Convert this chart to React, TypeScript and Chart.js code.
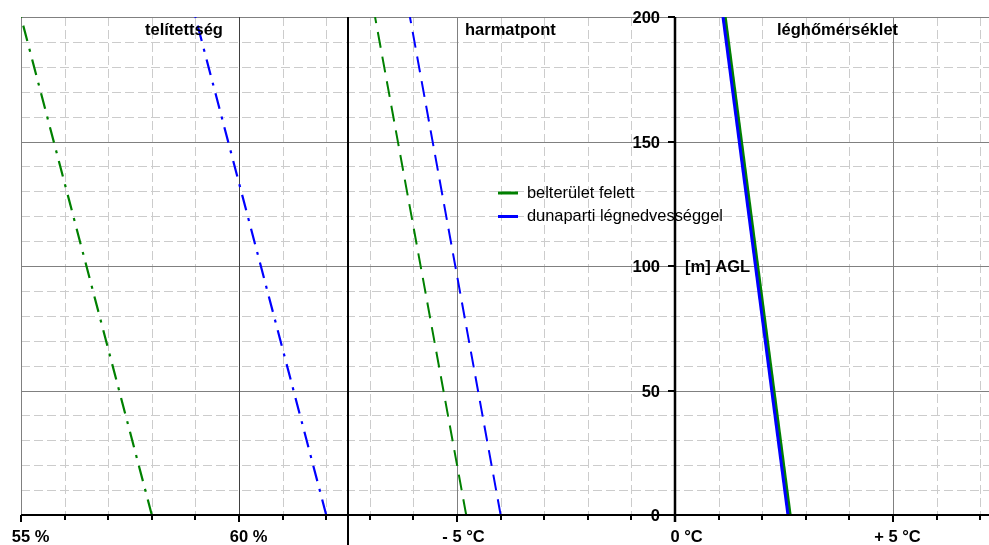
import React, { useEffect, useRef } from "react";
import { Chart, registerables } from "chart.js";

Chart.register(...registerables);

// Heights (m AGL) at which the profiles were read
const heights = [0, 200];

// Relative humidity (%) — plotted on the shared axis with an offset
const SAT_OFFSET = 70; // 55 % sits at -15 on the shared axis
const satBelterulet = [58.0, 55.0];
const satDunaparti = [62.0, 59.0];

// Dew point (°C)
const dewBelterulet = [-4.79, -6.88];
const dewDunaparti = [-4.0, -6.08];

// Air temperature (°C)
const tempBelterulet = [2.64, 1.15];
const tempDunaparti = [2.59, 1.1];

// Axis ticks / labels
const xMajorValues = [-15, -10, -5, 0, 5];
const xMajorLabels = ["55 %", "60 %", "- 5 °C", "0 °C", "+ 5 °C"];
const yMajorValues = [0, 50, 100, 150, 200];
const yMajorLabels = ["0", "50", "100", "150", "200"];

const panelTitles = ["telítettség", "harmatpont", "léghőmérséklet"];
const legendLabels = ["belterület felett", "dunaparti légnedvességgel"];
const yAxisTitle = "[m] AGL";

const GREEN = "#008000";
const BLUE = "#0000ff";
const FONT = '"Liberation Sans", Arial, sans-serif';

const pts = (vals: number[], off = 0) =>
  vals.map((v, i) => ({ x: v + off, y: heights[i] }));

const gridPlugin = {
  id: "customGrid",
  beforeDatasetsDraw(chart: any) {
    const { ctx, chartArea, scales } = chart;
    const xs = scales.x;
    const ys = scales.y;
    const { left, right, top, bottom } = chartArea;
    ctx.save();
    // minor dashed grid
    ctx.strokeStyle = "#cccccc";
    ctx.lineWidth = 1;
    ctx.setLineDash([9, 4]);
    for (let h = 10; h < 200; h += 10) {
      if (h % 50 === 0) continue;
      const y = Math.round(ys.getPixelForValue(h)) + 0.5;
      ctx.beginPath();
      ctx.moveTo(left, y);
      ctx.lineTo(right, y);
      ctx.stroke();
    }
    for (let v = -14; v <= 7; v++) {
      if (xMajorValues.includes(v)) continue;
      const x = Math.round(xs.getPixelForValue(v)) + 0.5;
      ctx.beginPath();
      ctx.moveTo(x, top);
      ctx.lineTo(x, bottom);
      ctx.stroke();
    }
    ctx.setLineDash([]);
    // major gray grid
    ctx.strokeStyle = "#808080";
    for (const h of [50, 100, 150, 200]) {
      const y = Math.round(ys.getPixelForValue(h)) + 0.5;
      ctx.beginPath();
      ctx.moveTo(left, y);
      ctx.lineTo(right, y);
      ctx.stroke();
    }
    for (const v of [-15, -10, -5, 5]) {
      const x = Math.round(xs.getPixelForValue(v)) + 0.5;
      ctx.strokeStyle = v === -10 ? "#404040" : "#808080";
      ctx.beginPath();
      ctx.moveTo(x, top);
      ctx.lineTo(x, bottom);
      ctx.stroke();
    }
    ctx.restore();
  },
  afterDatasetsDraw(chart: any) {
    const { ctx, chartArea, scales, height } = chart;
    const xs = scales.x;
    const ys = scales.y;
    const { left, right, top, bottom } = chartArea;
    ctx.save();
    ctx.strokeStyle = "#000";
    ctx.lineWidth = 2;
    // bottom axis
    ctx.beginPath();
    ctx.moveTo(left, bottom);
    ctx.lineTo(right, bottom);
    ctx.stroke();
    // panel separator at -7.5
    const xSep = Math.round(xs.getPixelForValue(-7.5));
    ctx.beginPath();
    ctx.moveTo(xSep, top);
    ctx.lineTo(xSep, height);
    ctx.stroke();
    // y axis at 0 °C
    const x0 = Math.round(xs.getPixelForValue(0));
    ctx.lineWidth = 2.5;
    ctx.beginPath();
    ctx.moveTo(x0, top);
    ctx.lineTo(x0, bottom + 7);
    ctx.stroke();
    ctx.lineWidth = 2;
    // x ticks
    for (let v = -15; v <= 7; v++) {
      const x = Math.round(xs.getPixelForValue(v));
      const len = xMajorValues.includes(v) ? 7 : 5;
      ctx.beginPath();
      ctx.moveTo(x, bottom);
      ctx.lineTo(x, bottom + len);
      ctx.stroke();
    }
    // y ticks
    for (const h of yMajorValues) {
      const y = Math.round(ys.getPixelForValue(h));
      ctx.beginPath();
      ctx.moveTo(x0 - 7, y);
      ctx.lineTo(x0, y);
      ctx.stroke();
    }
    // y labels
    ctx.fillStyle = "#000";
    ctx.font = `bold 16.5px ${FONT}`;
    ctx.textAlign = "right";
    ctx.textBaseline = "alphabetic";
    yMajorValues.forEach((h, i) => {
      const y = ys.getPixelForValue(h);
      ctx.fillText(yMajorLabels[i], x0 - 15, y + 6);
    });
    // x labels: number centred on tick
    ctx.textAlign = "left";
    xMajorValues.forEach((v, i) => {
      const m = xMajorLabels[i].match(/^(\D*)(\d+)(.*)$/);
      const pre = m ? m[1] : "";
      const num = m ? m[2] : xMajorLabels[i];
      const x = xs.getPixelForValue(v);
      const sx = x - ctx.measureText(pre).width - ctx.measureText(num).width / 2;
      ctx.fillText(xMajorLabels[i], sx, bottom + 27);
    });
    // panel titles
    const titleX = [145, 465, 777];
    panelTitles.forEach((t, i) => ctx.fillText(t, titleX[i], top + 18));
    // y axis title
    ctx.fillText(yAxisTitle, x0 + 10, ys.getPixelForValue(100) + 6);
    // legend
    ctx.font = `16.4px ${FONT}`;
    const legendColors = [GREEN, BLUE];
    legendLabels.forEach((lab, i) => {
      const yy = 193 + i * 23.5;
      ctx.strokeStyle = legendColors[i];
      ctx.lineWidth = 3;
      ctx.beginPath();
      ctx.moveTo(498, yy);
      ctx.lineTo(518, yy);
      ctx.stroke();
      ctx.fillStyle = "#000";
      ctx.fillText(lab, 527, yy + 4.5);
    });
    ctx.restore();
  },
};

export default function App() {
  const ref = useRef<HTMLCanvasElement | null>(null);
  useEffect(() => {
    document.body.style.margin = "0";
    if (!ref.current) return;
    const chart = new Chart(ref.current, {
      type: "line",
      data: {
        datasets: [
          {
            label: "telítettség – " + legendLabels[0],
            data: pts(satBelterulet, -SAT_OFFSET),
            borderColor: GREEN,
            borderWidth: 2.2,
            borderDash: [16, 8, 3, 8],
            order: 2,
          },
          {
            label: "telítettség – " + legendLabels[1],
            data: pts(satDunaparti, -SAT_OFFSET),
            borderColor: BLUE,
            borderWidth: 2.2,
            borderDash: [16, 8, 3, 8],
            order: 1,
          },
          {
            label: "harmatpont – " + legendLabels[0],
            data: pts(dewBelterulet),
            borderColor: GREEN,
            borderWidth: 2,
            borderDash: [16, 9],
            order: 2,
          },
          {
            label: "harmatpont – " + legendLabels[1],
            data: pts(dewDunaparti),
            borderColor: BLUE,
            borderWidth: 2,
            borderDash: [16, 9],
            order: 1,
          },
          {
            label: "léghőmérséklet – " + legendLabels[0],
            data: pts(tempBelterulet),
            borderColor: GREEN,
            borderWidth: 3,
            order: 2,
          },
          {
            label: "léghőmérséklet – " + legendLabels[1],
            data: pts(tempDunaparti),
            borderColor: BLUE,
            borderWidth: 3,
            order: 1,
          },
        ],
      },
      options: {
        responsive: false,
        animation: false,
        devicePixelRatio: 1,
        parsing: false,
        layout: { padding: { left: 21, right: 0, top: 17, bottom: 30 } },
        elements: { point: { radius: 0 }, line: { tension: 0, fill: false } },
        scales: {
          x: { type: "linear", min: -15, max: 7.2, display: false },
          y: { type: "linear", min: 0, max: 200, display: false },
        },
        plugins: { legend: { display: false }, tooltip: { enabled: false } },
      },
      plugins: [gridPlugin],
    } as any);
    return () => chart.destroy();
  }, []);
  return (
    <div style={{ position: "absolute", left: 0, top: 0, width: 989, height: 545 }}>
      <canvas ref={ref} width={989} height={545} style={{ display: "block" }} />
    </div>
  );
}
